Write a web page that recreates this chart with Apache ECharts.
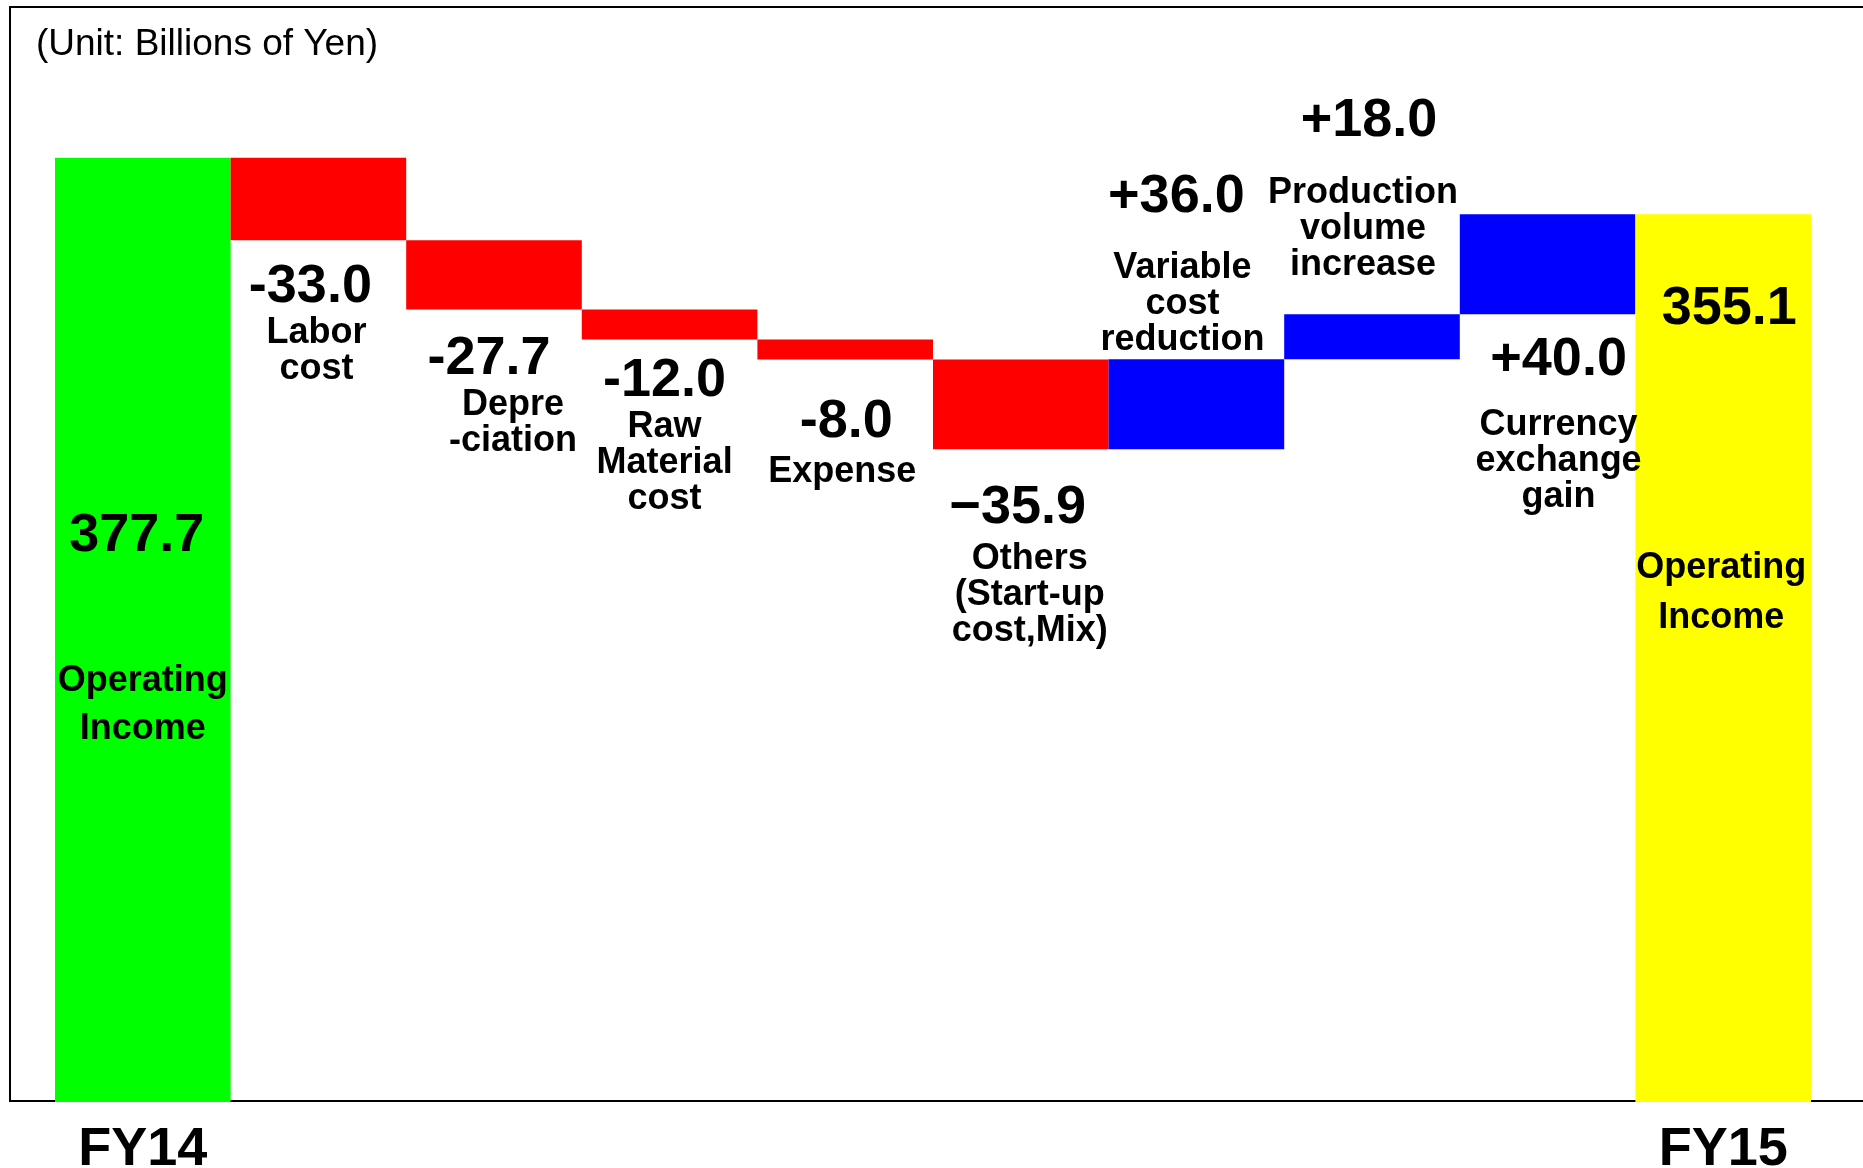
<!DOCTYPE html>
<html>
<head>
<meta charset="utf-8">
<title>Operating income FY14 to FY15</title>
<script src="https://cdn.jsdelivr.net/npm/echarts@6/dist/echarts.min.js"></script>
<style>
  html, body { margin: 0; padding: 0; background: #fff; }
  #chart-container { width: 1863px; height: 1168px; }
</style>
</head>
<body>
<div id="chart-container"></div>
<script>
// data
var categories = ['FY14', 'Labor\ncost', 'Depre\n-ciation', 'Raw\nMaterial\ncost', 'Expense',
  'Others\n(Start-up\ncost,Mix)', 'Variable\ncost\nreduction', 'Production\nvolume\nincrease',
  'Currency\nexchange\ngain', 'FY15'];
var startValue = 377.7;
var changes = [-33.0, -27.7, -12.0, -8.0, -35.9, 36.0, 18.0, 40.0];
var endValue = 355.1;
var valueText = ['377.7', '-33.0', '-27.7', '-12.0', '-8.0', '\u221235.9', '+36.0', '+18.0', '+40.0', '355.1'];
var endCaption = 'Operating\nIncome';

// label placement per bar: position, y offset, x shift of number / caption, gap between them
var labelLayout = [
  { pos: 'insideTop', dy: 350, vs: -6, ns: 0, gap: 93, nlh: 48 },
  { pos: 'bottom', dy: 19, vs: -8, ns: -2, gap: 0 },
  { pos: 'bottom', dy: 22, vs: -5, ns: 19, gap: 0 },
  { pos: 'bottom', dy: 14, vs: -5, ns: -5, gap: 0 },
  { pos: 'bottom', dy: 35, vs: 1, ns: -3, gap: 4 },
  { pos: 'bottom', dy: 31, vs: -3, ns: 9, gap: 5 },
  { pos: 'top', dy: -1, vs: -20, ns: -14, gap: 25 },
  { pos: 'top', dy: -31, vs: -3, ns: -9, gap: 26 },
  { pos: 'bottom', dy: 18, vs: 11, ns: 11, gap: 19 },
  { pos: 'insideTop', dy: 67, vs: 6, ns: -2, gap: 206, nlh: 50 }
];

var FONT = '"Liberation Sans", Arial, sans-serif';

// build waterfall
var baseData = [0];
var barData = [startValue];
var colors = ['#00ff00'];
var running = startValue;
changes.forEach(function (c) {
  if (c < 0) {
    baseData.push(+(running + c).toFixed(1));
    barData.push(-c);
    colors.push('#ff0000');
  } else {
    baseData.push(+running.toFixed(1));
    barData.push(c);
    colors.push('#0000ff');
  }
  running += c;
});
baseData.push(0);
barData.push(endValue);
colors.push('#ffff00');

function pad(shift) {
  return [0, shift < 0 ? -2 * shift : 0, 0, shift > 0 ? 2 * shift : 0];
}

var visibleData = barData.map(function (v, i) {
  var lay = labelLayout[i];
  var caption = (i === 0 || i === categories.length - 1) ? endCaption : categories[i];
  var lines = ['{v|' + valueText[i] + '}'];
  if (lay.gap > 0) lines.push('{s| }');
  caption.split('\n').forEach(function (t) { lines.push('{n|' + t + '}'); });
  return {
    value: v,
    itemStyle: { color: colors[i] },
    label: {
      show: true,
      position: lay.pos,
      distance: 0,
      offset: [0, lay.dy],
      formatter: lines.join('\n'),
      rich: {
        v: {
          fontFamily: FONT, fontSize: 54, fontWeight: 'bold', color: '#000',
          lineHeight: 56, align: 'center', padding: pad(lay.vs)
        },
        s: { fontSize: 1, lineHeight: lay.gap },
        n: {
          fontFamily: FONT, fontSize: 36, fontWeight: 'bold', color: '#000',
          lineHeight: lay.nlh || 36, align: 'center', padding: pad(lay.ns)
        }
      }
    }
  };
});

var dom = document.getElementById('chart-container');
var myChart = echarts.init(dom, null, { renderer: 'canvas' });

var option = {
  backgroundColor: '#ffffff',
  animation: false,
  title: {
    text: '(Unit: Billions of Yen)',
    left: 36,
    top: 26,
    padding: 0,
    textStyle: { fontFamily: FONT, fontSize: 37, fontWeight: 'normal', color: '#000' }
  },
  grid: {
    left: 55,
    right: 52,
    top: 102,
    height: 1000,
    outerBoundsMode: 'none'
  },
  xAxis: {
    type: 'category',
    data: categories,
    axisLine: { show: false },
    axisTick: { show: false },
    axisLabel: {
      interval: 0,
      margin: 21,
      fontFamily: FONT,
      fontSize: 54,
      fontWeight: 'bold',
      color: '#000',
      formatter: function (value, idx) {
        return (idx === 0 || idx === categories.length - 1) ? value : '';
      }
    }
  },
  yAxis: {
    type: 'value',
    min: 0,
    max: 400,
    show: false,
    splitLine: { show: false }
  },
  series: [
    {
      name: 'base',
      type: 'bar',
      stack: 'wf',
      barCategoryGap: '0%',
      itemStyle: { color: 'transparent' },
      emphasis: { disabled: true },
      data: baseData,
      z: 3
    },
    {
      name: 'change',
      type: 'bar',
      stack: 'wf',
      barCategoryGap: '0%',
      data: visibleData,
      z: 3
    }
  ],
  graphic: [
    {
      type: 'polyline',
      z: 1,
      shape: { points: [[1863, 7], [10, 7], [10, 1101], [1863, 1101]] },
      style: { stroke: '#000', lineWidth: 2, fill: null }
    }
  ]
};

myChart.setOption(option);
window.addEventListener('resize', myChart.resize);
</script>
</body>
</html>
